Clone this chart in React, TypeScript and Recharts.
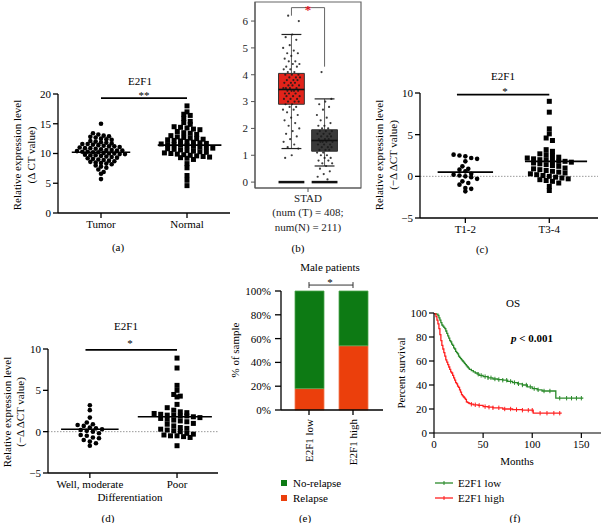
import React from 'react';
import {
  ScatterChart, Scatter, XAxis, YAxis, ReferenceLine, ComposedChart,
  ReferenceArea, BarChart, Bar, Line,
} from 'recharts';

const FONT = "'Liberation Serif', 'DejaVu Serif', serif";

// ---------- Panel (a) ----------
const catsA = ['Tumor', 'Normal'];
const tumorA = [15.0, 13.4, 13.2, 13.0, 12.9, 12.8, 12.7, 12.5, 12.4, 12.3, 12.1, 12.0, 11.9, 11.8, 11.7, 11.6, 11.6, 11.5, 11.4, 11.3, 11.2, 11.2, 11.1, 11.0, 10.9, 10.9, 10.8, 10.7, 10.6, 10.6, 10.5, 10.5, 10.4, 10.3, 10.3, 10.2, 10.2, 10.1, 10.0, 10.0, 9.9, 9.9, 9.8, 9.7, 9.7, 9.6, 9.5, 9.4, 9.3, 9.2, 9.1, 9.0, 8.9, 8.8, 8.7, 8.6, 8.5, 8.4, 8.3, 8.2, 8.0, 7.8, 7.6, 7.3, 6.9, 6.6, 5.7];
const normalA = [18.0, 17.0, 16.6, 16.4, 15.9, 15.4, 15.2, 14.9, 14.5, 14.4, 14.3, 14.1, 14.0, 13.7, 13.5, 13.4, 13.2, 13.0, 12.8, 12.7, 12.6, 12.5, 12.4, 12.3, 12.2, 12.1, 12.0, 11.9, 11.8, 11.7, 11.6, 11.5, 11.5, 11.4, 11.3, 11.2, 11.1, 11.0, 10.9, 10.8, 10.7, 10.6, 10.5, 10.4, 10.3, 10.2, 10.1, 10.0, 9.9, 9.8, 9.7, 9.6, 9.5, 9.4, 9.3, 9.2, 9.0, 8.3, 7.6, 6.3, 5.5, 4.6];
const medianA = [10.2, 11.4];
const yTicksA = [0, 5, 10, 15, 20];

// ---------- Panel (b) ----------
const tumorB = [6.2, 6.0, 5.5, 5.4, 5.3, 5.1, 5.0, 4.9, 4.8, 4.8, 4.7, 4.6, 4.5, 4.5, 4.4, 4.4, 4.3, 4.3, 4.2, 4.2, 4.1, 4.1, 4.0, 4.0, 4.0, 3.9, 3.9, 3.9, 3.8, 3.8, 3.8, 3.7, 3.7, 3.7, 3.6, 3.6, 3.6, 3.5, 3.5, 3.5, 3.5, 3.4, 3.4, 3.4, 3.4, 3.3, 3.3, 3.3, 3.2, 3.2, 3.2, 3.1, 3.1, 3.1, 3.0, 3.0, 3.0, 2.9, 2.9, 2.8, 2.8, 2.7, 2.7, 2.6, 2.5, 2.4, 2.3, 2.2, 2.1, 2.0, 1.9, 1.8, 1.7, 1.6, 1.5, 1.4, 1.3, 1.25, 1.0, 0.9];
const normalB = [4.1, 3.1, 3.0, 2.9, 2.8, 2.7, 2.5, 2.4, 2.3, 2.2, 2.1, 2.1, 2.0, 2.0, 1.9, 1.9, 1.9, 1.8, 1.8, 1.8, 1.7, 1.7, 1.7, 1.6, 1.6, 1.6, 1.5, 1.5, 1.5, 1.5, 1.4, 1.4, 1.4, 1.3, 1.3, 1.3, 1.2, 1.2, 1.2, 1.1, 1.1, 1.0, 1.0, 0.9, 0.9, 0.8, 0.8, 0.7, 0.7, 0.6, 0.5, 0.4, 0.3, 0.2, 0.1];
const boxLo = [1.25, 0.6];
const boxQ1 = [2.9, 1.15];
const boxMed = [3.45, 1.55];
const boxQ3 = [4.05, 1.95];
const boxHi = [5.5, 3.1];
const yTicksB = [0, 1, 2, 3, 4, 5, 6];
const tickLinesB = ['STAD', '(num (T) = 408;', 'num(N) = 211)'];

// ---------- Panel (c) ----------
const catsC = ['T1-2', 'T3-4'];
const t12 = [2.6, 2.5, 2.4, 2.2, 2.1, 1.8, 1.2, 0.9, 0.8, 0.6, 0.3, 0.2, 0.1, 0.0, -0.1, -0.3, -0.6, -0.8, -1.0, -1.4, -1.5, -1.8];
const t34 = [9.0, 7.7, 5.7, 5.1, 4.6, 4.3, 3.2, 3.0, 2.7, 2.6, 2.5, 2.3, 2.2, 2.1, 2.0, 2.0, 1.9, 1.8, 1.8, 1.7, 1.6, 1.5, 1.4, 1.3, 1.2, 1.0, 0.9, 0.8, 0.7, 0.6, 0.5, 0.4, 0.3, 0.2, 0.1, 0.0, -0.1, -0.2, -0.3, -0.4, -0.5, -0.6, -0.8, -1.2, -1.7];
const meanC = [0.5, 1.8];
const yTicksCD = [-5, 0, 5, 10];

// ---------- Panel (d) ----------
const catsD = ['Well, moderate', 'Poor'];
const wellMod = [3.2, 2.6, 1.7, 1.1, 0.9, 0.8, 0.7, 0.5, 0.4, 0.3, 0.2, 0.1, 0.0, -0.2, -0.4, -0.5, -0.7, -0.8, -1.0, -1.2, -1.4, -1.7];
const poor = [8.9, 7.7, 5.6, 5.0, 4.5, 4.3, 4.2, 3.3, 2.9, 2.6, 2.4, 2.3, 2.2, 2.1, 2.0, 2.0, 1.9, 1.9, 1.8, 1.7, 1.6, 1.5, 1.4, 1.3, 1.2, 1.0, 0.9, 0.7, 0.5, 0.4, 0.3, 0.2, 0.1, 0.0, -0.2, -0.3, -0.4, -0.5, -0.5, -0.6, -0.7, -1.7];
const meanD = [0.3, 1.8];

// ---------- Panel (e) ----------
const catsE = ['E2F1 low', 'E2F1 high'];
const relapsePct = [18, 54];
const noRelapsePct = [82, 46];
const yTicksE = [0, 20, 40, 60, 80, 100];

// ---------- Panel (f) ----------
const tLow = [0, 1, 2, 3, 4, 5, 6, 7, 8, 9, 10, 11, 12, 13, 14, 15, 16, 17, 18, 19, 20, 21, 22, 23, 24, 25, 26, 27, 28, 29, 30, 31, 32, 33, 34, 35, 36, 38, 40, 42, 44, 46, 48, 50, 55, 60, 65, 70, 75, 80, 85, 90, 95, 100, 105, 110, 115, 120, 124, 152];
const sLow = [100, 100, 99, 99, 98, 96, 94, 92, 90, 89, 88, 87, 85, 83, 81, 79, 77, 76, 74, 73, 71, 70, 68, 67, 66, 64, 63, 62, 61, 60, 59, 58, 57, 56, 55, 54, 53, 52, 51, 50, 49, 48, 48, 47, 46, 45, 44.5, 44, 43, 42, 41, 40, 38.5, 37, 36, 35, 35, 35, 29, 29];
const tHigh = [0, 1, 2, 3, 4, 5, 6, 7, 8, 9, 10, 11, 12, 13, 14, 15, 16, 17, 18, 19, 20, 21, 22, 23, 24, 25, 26, 27, 28, 29, 30, 31, 32, 33, 34, 35, 36, 38, 40, 45, 50, 55, 60, 70, 80, 90, 100, 101, 130];
const sHigh = [100, 99, 97, 94, 91, 87, 82, 77, 73, 70, 67, 64, 61, 59, 57, 55, 53, 51, 50, 48, 46, 44, 42, 41, 39, 38, 36, 34, 32, 31, 30, 29, 28, 26, 25.5, 25, 24.5, 24, 23.5, 23, 22, 21.5, 21, 20, 19.5, 19, 19, 16.5, 16.5];
const censLow = [45, 48, 52, 55, 58, 62, 66, 70, 74, 78, 82, 86, 90, 94, 98, 102, 106, 112, 118, 128, 135, 140, 145, 150];
const censHigh = [38, 42, 46, 52, 56, 60, 66, 72, 78, 84, 90, 96, 100, 108, 115, 122, 128];
const xTicksF = [0, 50, 100, 150];
const yTicksF = [0, 20, 40, 60, 80, 100];

// ---------- helpers ----------
function swarm(values: number[], center: number, binH: number, step: number) {
  const bins = new Map<number, number[]>();
  values.forEach((v) => {
    const k = Math.round(v / binH);
    if (!bins.has(k)) bins.set(k, []);
    bins.get(k)!.push(v);
  });
  const out: { x: number; y: number }[] = [];
  bins.forEach((arr) => {
    const n = arr.length;
    arr.forEach((v, i) => out.push({ x: center + (i - (n - 1) / 2) * step, y: v }));
  });
  return out;
}

// deterministic low-discrepancy horizontal jitter (layout only)
function jitter(values: number[], center: number, half: number) {
  return values.map((v, i) => ({ x: center + (((i * 0.6180339887 + 0.31) % 1) - 0.5) * 2 * half, y: v }));
}

function survAt(t: number[], s: number[], x: number) {
  let v = s[0];
  for (let i = 0; i < t.length; i++) if (t[i] <= x) v = s[i];
  return v;
}

const Circ = (p: any) => <circle cx={p.cx} cy={p.cy} r={2.3} fill="#000" />;
const Sq = (p: any) => <rect x={p.cx - 2.5} y={p.cy - 2.5} width={5} height={5} fill="#000" />;
const Tiny = (p: any) => <circle cx={p.cx} cy={p.cy} r={1.1} fill="#1a1a1a" fillOpacity={0.85} />;

const tickStyle = { fill: '#000', fontSize: 11, fontFamily: FONT };

function Txt({ x, y, children, rot, anchor = 'middle', size = 11, color = '#000', weight }: any) {
  return (
    <text
      x={x}
      y={y}
      textAnchor={anchor}
      dominantBaseline="central"
      fontSize={size}
      fontFamily={FONT}
      fill={color}
      fontWeight={weight}
      transform={rot ? `rotate(-90 ${x} ${y})` : undefined}
    >
      {children}
    </text>
  );
}

function DotPanel(props: any) {
  const { left, top, width, height, yw, mt, mr, xDomain, yDomain, yTicks, cats, d1, d2, m1, m2, m1w, m2w, sigY, sigX, zero } = props;
  return (
    <div style={{ position: 'absolute', left, top }}>
      <ScatterChart width={width} height={height} margin={{ top: mt, right: mr, bottom: 0, left: 0 }}>
        <XAxis
          type="number" dataKey="x" domain={xDomain} ticks={[1, 2]} allowDataOverflow
          tickFormatter={(v: number) => cats[v - 1]} height={17} tickSize={5}
          stroke="#000" strokeWidth={1.3} tick={tickStyle}
        />
        <YAxis
          type="number" dataKey="y" domain={yDomain} ticks={yTicks} allowDataOverflow
          width={yw} tickSize={5} stroke="#000" strokeWidth={1.3} tick={tickStyle}
          tickFormatter={(v: number) => (v < 0 ? `\u2212${-v}` : `${v}`)}
        />
        {zero && <ReferenceLine y={0} stroke="#9a9a9a" strokeDasharray="1.5 1.5" strokeWidth={1} />}
        <Scatter data={d1} shape={Circ} isAnimationActive={false} />
        <Scatter data={d2} shape={Sq} isAnimationActive={false} />
        <ReferenceLine segment={[{ x: 1 - m1w[0], y: m1 }, { x: 1 + m1w[1], y: m1 }]} stroke="#000" strokeWidth={1.6} />
        <ReferenceLine segment={[{ x: 2 - m2w[0], y: m2 }, { x: 2 + m2w[1], y: m2 }]} stroke="#000" strokeWidth={1.6} />
        <ReferenceLine segment={[{ x: sigX[0], y: sigY }, { x: sigX[1], y: sigY }]} stroke="#000" strokeWidth={1.6} />
      </ScatterChart>
    </div>
  );
}

const BTick = (p: any) => (
  <g>
    {tickLinesB.map((s, i) => (
      <text key={i} x={p.x} y={p.y + i * 14.5} dy="0.71em" textAnchor="middle" fontSize={11} fontFamily={FONT} fill="#222">
        {s}
      </text>
    ))}
  </g>
);

const RotTick = (p: any) => (
  <text
    x={p.x} y={p.y} dy="0.35em" textAnchor="end" fontSize={11} fontFamily={FONT} fill="#000"
    transform={`rotate(-90 ${p.x} ${p.y})`}
  >
    {p.payload.value}
  </text>
);

export default function App() {
  const dA1 = swarm(tumorA, 1, 0.6, 0.062);
  const dA2 = swarm(normalA, 2, 0.75, 0.075);
  const dC1 = swarm(t12, 1, 0.6, 0.07);
  const dC2 = swarm(t34, 2, 0.65, 0.075);
  const dD1 = swarm(wellMod, 1, 0.6, 0.07);
  const dD2 = swarm(poor, 2, 0.65, 0.075);

  const pB1 = jitter(tumorB, 1, 0.26);
  const pB2 = jitter(normalB, 2, 0.24);

  const dataE = catsE.map((name, i) => ({ name, relapse: relapsePct[i], norelapse: noRelapsePct[i] }));

  const kmLow = tLow.map((t, i) => ({ t, s: sLow[i] }));
  const kmHigh = tHigh.map((t, i) => ({ t, s: sHigh[i] }));
  const cLow = censLow.map((t) => ({ t, s: survAt(tLow, sLow, t) }));
  const cHigh = censHigh.map((t) => ({ t, s: survAt(tHigh, sHigh, t) }));

  const GREEN_F = '#2b8a2b';
  const RED_F = '#ff1f1f';
  const GREEN_E = '#0d7a14';
  const RED_E = '#eb3f0c';

  const censorDot = (color: string) => (p: any) => (
    <line key={`c${p.index}`} x1={p.cx} x2={p.cx} y1={p.cy - 2.2} y2={p.cy + 2.2} stroke={color} strokeWidth={1} />
  );

  return (
    <div style={{ position: 'absolute', left: 0, top: 0, width: 604, height: 523, background: '#fff', overflow: 'hidden' }}>
      {/* (a) */}
      <DotPanel
        left={0} top={60} width={240} height={170} yw={58} mt={34} mr={10}
        xDomain={[0.5, 2.5]} yDomain={[0, 20]} yTicks={yTicksA} cats={catsA}
        d1={dA1} d2={dA2} m1={medianA[0]} m2={medianA[1]} m1w={[0.34, 0.34]} m2w={[0.34, 0.4]}
        sigY={19.3} sigX={[1, 2]}
      />

      {/* (b) */}
      <div style={{ position: 'absolute', left: 200, top: 0 }}>
        <ComposedChart width={170} height={240} margin={{ top: 2, right: 9, bottom: 2, left: 0 }}>
          <XAxis
            type="number" dataKey="x" domain={[-0.1, 3.1]} ticks={[1.5]} allowDataOverflow
            height={50} tickSize={4} stroke="#555" tick={<BTick />}
          />
          <YAxis
            type="number" dataKey="y" domain={[-0.22, 6.71]} ticks={yTicksB} allowDataOverflow
            width={55} tickSize={4} tickMargin={3} stroke="#555" tick={{ ...tickStyle, fill: '#222' }}
          />
          <ReferenceArea x1={-0.1} x2={3.1} y1={-0.22} y2={6.71} fill="none" stroke="#666" strokeWidth={1.2} ifOverflow="visible" />
          {[0, 1].map((i) => (
            <ReferenceArea
              key={`box${i}`} x1={i + 1 - 0.39} x2={i + 1 + 0.39} y1={boxQ1[i]} y2={boxQ3[i]}
              fill={i === 0 ? '#e2231a' : '#3a3a3a'} fillOpacity={1} stroke="#333" strokeWidth={1}
            />
          ))}
          {[0, 1].map((i) => (
            <ReferenceLine key={`wu${i}`} segment={[{ x: i + 1, y: boxQ3[i] }, { x: i + 1, y: boxHi[i] }]} stroke="#333" strokeWidth={0.8} />
          ))}
          {[0, 1].map((i) => (
            <ReferenceLine key={`wl${i}`} segment={[{ x: i + 1, y: boxLo[i] }, { x: i + 1, y: boxQ1[i] }]} stroke="#333" strokeWidth={0.8} />
          ))}
          {[0, 1].map((i) => (
            <ReferenceLine key={`cu${i}`} segment={[{ x: i + 1 - 0.3, y: boxHi[i] }, { x: i + 1 + 0.3, y: boxHi[i] }]} stroke="#222" strokeWidth={1.2} />
          ))}
          {[0, 1].map((i) => (
            <ReferenceLine key={`cl${i}`} segment={[{ x: i + 1 - 0.3, y: boxLo[i] }, { x: i + 1 + 0.3, y: boxLo[i] }]} stroke="#222" strokeWidth={1.2} />
          ))}
          {[0, 1].map((i) => (
            <ReferenceLine key={`z${i}`} segment={[{ x: i + 1 - 0.39, y: 0 }, { x: i + 1 + 0.39, y: 0 }]} stroke="#111" strokeWidth={2.5} />
          ))}
          <Scatter data={pB1} shape={Tiny} isAnimationActive={false} />
          <Scatter data={pB2} shape={Tiny} isAnimationActive={false} />
          {[0, 1].map((i) => (
            <ReferenceLine key={`m${i}`} segment={[{ x: i + 1 - 0.39, y: boxMed[i] }, { x: i + 1 + 0.39, y: boxMed[i] }]} stroke="#111" strokeWidth={1.6} />
          ))}
          <ReferenceLine segment={[{ x: 1, y: 6.5 }, { x: 2, y: 6.5 }]} stroke="#666" strokeWidth={1} />
          <ReferenceLine segment={[{ x: 1, y: 6.5 }, { x: 1, y: 6.2 }]} stroke="#666" strokeWidth={1} />
          <ReferenceLine segment={[{ x: 2, y: 6.5 }, { x: 2, y: 4.3 }]} stroke="#666" strokeWidth={1} />
        </ComposedChart>
      </div>

      {/* (c) */}
      <DotPanel
        left={365} top={60} width={239} height={175} yw={55} mt={33} mr={6}
        xDomain={[0.46, 2.58]} yDomain={[-5, 10]} yTicks={yTicksCD} cats={catsC}
        d1={dC1} d2={dC2} m1={meanC[0]} m2={meanC[1]} m1w={[0.33, 0.33]} m2w={[0.29, 0.45]}
        sigY={9.8} sigX={[0.9, 2]} zero
      />

      {/* (d) */}
      <DotPanel
        left={0} top={300} width={230} height={190} yw={48} mt={49} mr={12}
        xDomain={[0.52, 2.47]} yDomain={[-5, 10]} yTicks={yTicksCD} cats={catsD}
        d1={dD1} d2={dD2} m1={meanD[0]} m2={meanD[1]} m1w={[0.33, 0.33]} m2w={[0.45, 0.4]}
        sigY={9.9} sigX={[0.95, 2]} zero
      />

      {/* (e) */}
      <div style={{ position: 'absolute', left: 200, top: 270 }}>
        <BarChart width={190} height={200} data={dataE} margin={{ top: 21, right: 7, bottom: 5, left: 0 }}>
          <XAxis
            dataKey="name" type="category" padding={{ left: 6, right: 8 }} height={55}
            tickSize={5} tickMargin={4} stroke="#000" strokeWidth={1.3} tick={<RotTick />} interval={0}
          />
          <YAxis
            type="number" domain={[0, 100]} ticks={yTicksE} width={81} tickSize={6} tickMargin={4}
            stroke="#000" strokeWidth={1.3} tick={tickStyle} tickFormatter={(v: number) => `${v}%`}
          />
          <Bar dataKey="relapse" stackId="s" fill={RED_E} stroke="#f07a50" strokeWidth={0.8} barSize={29} isAnimationActive={false} />
          <Bar dataKey="norelapse" stackId="s" fill={GREEN_E} stroke="#4fa64f" strokeWidth={0.8} barSize={29} isAnimationActive={false} />
          <ReferenceLine segment={[{ x: catsE[0], y: 105 }, { x: catsE[1], y: 105 }]} stroke="#333" strokeWidth={1} ifOverflow="visible" />
          <ReferenceLine segment={[{ x: catsE[0], y: 102.5 }, { x: catsE[0], y: 107.5 }]} stroke="#333" strokeWidth={1} ifOverflow="visible" />
          <ReferenceLine segment={[{ x: catsE[1], y: 102.5 }, { x: catsE[1], y: 107.5 }]} stroke="#333" strokeWidth={1} ifOverflow="visible" />
        </BarChart>
      </div>

      {/* (f) */}
      <div style={{ position: 'absolute', left: 395, top: 280 }}>
        <ComposedChart width={209} height={180} margin={{ top: 33, right: 3, bottom: 10, left: 0 }}>
          <XAxis
            type="number" dataKey="t" domain={[0, 170]} ticks={xTicksF} allowDataOverflow
            height={17} tickSize={5} stroke="#000" strokeWidth={1.2} tick={tickStyle}
          />
          <YAxis
            type="number" dataKey="s" domain={[0, 100]} ticks={yTicksF} allowDataOverflow
            width={39} tickSize={5} stroke="#000" strokeWidth={1.2} tick={tickStyle}
          />
          <Line data={kmLow} dataKey="s" type="stepAfter" stroke={GREEN_F} strokeWidth={1.3} dot={false} isAnimationActive={false} />
          <Line data={kmHigh} dataKey="s" type="stepAfter" stroke={RED_F} strokeWidth={1.3} dot={false} isAnimationActive={false} />
          <Line data={cLow} dataKey="s" stroke="none" dot={censorDot(GREEN_F)} activeDot={false} isAnimationActive={false} />
          <Line data={cHigh} dataKey="s" stroke="none" dot={censorDot(RED_F)} activeDot={false} isAnimationActive={false} />
        </ComposedChart>
      </div>

      {/* annotations */}
      <svg width={604} height={523} style={{ position: 'absolute', left: 0, top: 0, pointerEvents: 'none' }}>
        {/* (a) */}
        <Txt x={140} y={81}>E2F1</Txt>
        <Txt x={144} y={95}>**</Txt>
        <Txt x={17} y={155} rot>Relative expression level</Txt>
        <Txt x={31} y={155} rot>(Δ CT value)</Txt>
        <Txt x={118} y={247}>(a)</Txt>
        {/* (b) */}
        <Txt x={308} y={9} color="#e3141e" size={13} weight="bold">*</Txt>
        <Txt x={298} y={248}>(b)</Txt>
        {/* (c) */}
        <Txt x={503} y={76}>E2F1</Txt>
        <Txt x={505} y={91}>*</Txt>
        <Txt x={379} y={155} rot>Relative expression level</Txt>
        <Txt x={393} y={155} rot>(−Δ ΔCT value)</Txt>
        <Txt x={482} y={249}>(c)</Txt>
        {/* (d) */}
        <Txt x={126} y={326}>E2F1</Txt>
        <Txt x={130} y={343}>*</Txt>
        <Txt x={7} y={412} rot>Relative expression level</Txt>
        <Txt x={20} y={412} rot>(−Δ ΔCT value)</Txt>
        <Txt x={130} y={497}>Differentiation</Txt>
        <Txt x={108} y={518}>(d)</Txt>
        {/* (e) */}
        <Txt x={330} y={267}>Male patients</Txt>
        <Txt x={330} y={282}>*</Txt>
        <Txt x={235} y={350} rot>% of sample</Txt>
        <rect x={281} y={480} width={6} height={6} fill={GREEN_E} />
        <rect x={281} y={495} width={6} height={6} fill={RED_E} />
        <Txt x={293} y={483} anchor="start">No-relapse</Txt>
        <Txt x={293} y={498} anchor="start">Relapse</Txt>
        <Txt x={305} y={518}>(e)</Txt>
        {/* (f) */}
        <Txt x={513} y={303}>OS</Txt>
        <text x={532} y={338} textAnchor="middle" dominantBaseline="central" fontSize={11} fontFamily={FONT} fontWeight="bold">
          <tspan fontStyle="italic">p</tspan> &lt; 0.001
        </text>
        <Txt x={401} y={373} rot>Percent survival</Txt>
        <Txt x={517} y={461}>Months</Txt>
        <line x1={435} x2={453} y1={483} y2={483} stroke={GREEN_F} strokeWidth={1.3} />
        <line x1={444} x2={444} y1={481} y2={485} stroke={GREEN_F} strokeWidth={1} />
        <line x1={435} x2={453} y1={498} y2={498} stroke={RED_F} strokeWidth={1.3} />
        <line x1={444} x2={444} y1={496} y2={500} stroke={RED_F} strokeWidth={1} />
        <Txt x={458} y={483} anchor="start">E2F1 low</Txt>
        <Txt x={458} y={498} anchor="start">E2F1 high</Txt>
        <Txt x={515} y={518}>(f)</Txt>
      </svg>
    </div>
  );
}
